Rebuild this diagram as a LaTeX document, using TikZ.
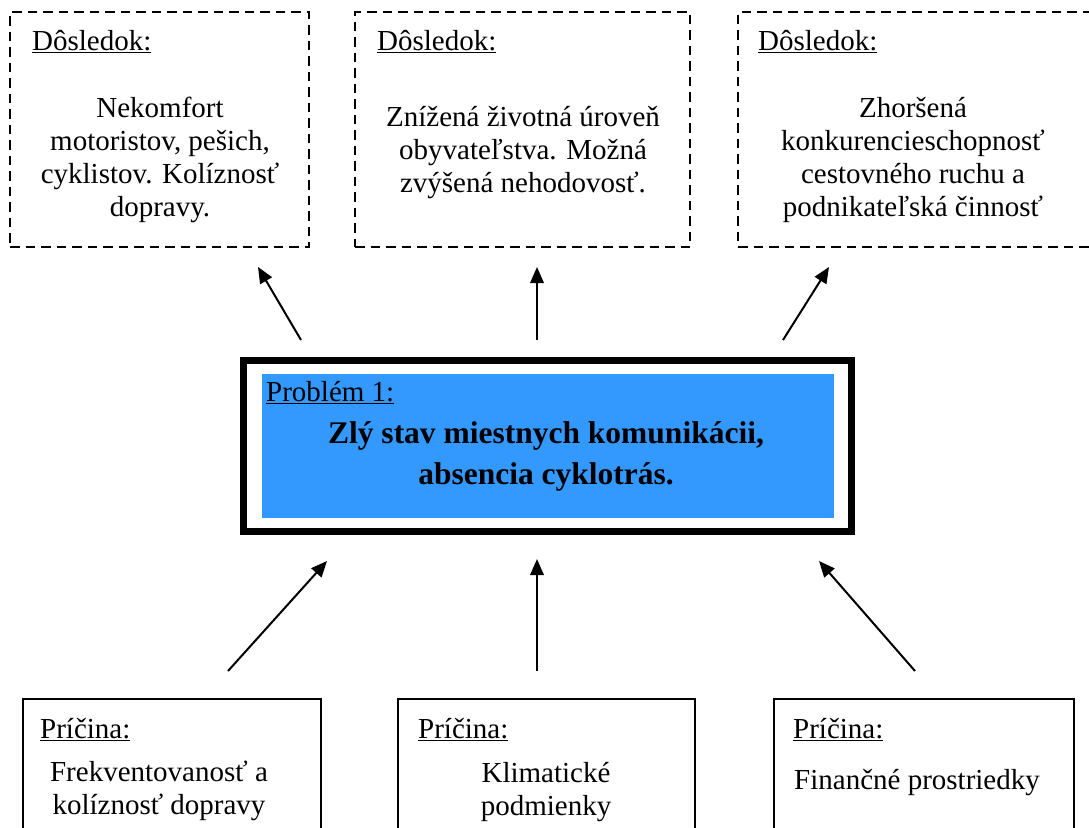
\documentclass[tikz,border=0pt]{standalone}
\usepackage{fontspec}
\setmainfont{Liberation Serif}
\usetikzlibrary{arrows.meta}
\definecolor{probblue}{RGB}{51,153,255}
\tikzset{
  dashbox/.style={draw, line width=2.5pt, dash pattern=on 9.5pt off 6pt, inner sep=0pt, minimum width=#1},
  causebox/.style={draw, line width=1.5pt, inner sep=0pt, minimum width=#1, minimum height=150pt},
  regtext/.style={font=\fontsize{29}{33}\selectfont, inner sep=0pt},
  bodytext/.style={font=\fontsize{29}{33}\selectfont, inner sep=0pt, align=center},
  boldtext/.style={font=\fontsize{31.5}{41}\selectfont\bfseries, inner sep=0pt, align=center},
  arr/.style={line width=2pt, -{Triangle[length=16pt,width=13.5pt]}}
}
\begin{document}
\begin{tikzpicture}[x=1pt,y=-1pt]
\useasboundingbox (0,0) rectangle (1089,827);
% top consequence boxes
\node[dashbox=299, minimum height=235] (d1) at (159.5,129.5) {};
\node[dashbox=335, minimum height=235] (d2) at (522.5,129.5) {};
\node[dashbox=354, minimum height=235] (d3) at (915,129.5) {};
\node[regtext, anchor=base west] (d1h) at (32,50) {\underline{Dôsledok:}};
\node[regtext, anchor=base west] (d2h) at (377,50) {\underline{Dôsledok:}};
\node[regtext, anchor=base west] (d3h) at (758,50) {\underline{Dôsledok:}};
\node[bodytext, anchor=base] (d1t) at (160,216) {Nekomfort\\motoristov, pešich,\\cyklistov. Kolíznosť\\dopravy.};
\node[bodytext, anchor=base] (d2t) at (523,192) {Znížená životná úroveň\\obyvateľstva. Možná\\zvýšená nehodovosť.};
\node[bodytext, anchor=base] (d3t) at (913,216) {Zhoršená\\konkurencieschopnosť\\cestovného ruchu a\\podnikateľská činnosť};
% problem box
\node[draw, line width=7pt, inner sep=0pt, minimum width=608pt, minimum height=171pt] (prob) at (547.5,446) {};
\node[fill=probblue, inner sep=0pt, minimum width=572pt, minimum height=144pt] (probin) at (548,446) {};
\node[regtext, anchor=base west] (probh) at (266,401) {\underline{Problém 1:}};
\node[boldtext, anchor=base] (probt) at (546,484) {Zlý stav miestnych komunikácii,\\absencia cyklotrás.};
% cause boxes
\node[causebox=298, anchor=north west] (c1) at (22,698) {};
\node[causebox=297, anchor=north west] (c2) at (397,698) {};
\node[causebox=300, anchor=north west] (c3) at (773,698) {};
\node[regtext, anchor=base west] (c1h) at (40,738) {\underline{Príčina:}};
\node[regtext, anchor=base west] (c2h) at (418,738) {\underline{Príčina:}};
\node[regtext, anchor=base west] (c3h) at (793,738) {\underline{Príčina:}};
\node[bodytext, anchor=base] (c1t) at (159,814) {Frekventovanosť a\\kolíznosť dopravy};
\node[bodytext, anchor=base] (c2t) at (546,815) {Klimatické\\podmienky};
\node[bodytext, anchor=base] (c3t) at (917,789) {Finančné prostriedky};
% arrow end points
\coordinate (u1a) at (301,340); \coordinate (u1b) at (258,267);
\coordinate (u2a) at (537,340); \coordinate (u2b) at (537,267);
\coordinate (u3a) at (783,340); \coordinate (u3b) at (829,267);
\coordinate (l1a) at (228,671); \coordinate (l1b) at (327,561);
\coordinate (l2a) at (537,671); \coordinate (l2b) at (537,559);
\coordinate (l3a) at (915,671); \coordinate (l3b) at (819,561);
\draw[arr] (u1a) -- (u1b);
\draw[arr] (u2a) -- (u2b);
\draw[arr] (u3a) -- (u3b);
\draw[arr] (l1a) -- (l1b);
\draw[arr] (l2a) -- (l2b);
\draw[arr] (l3a) -- (l3b);
\end{tikzpicture}
\end{document}
